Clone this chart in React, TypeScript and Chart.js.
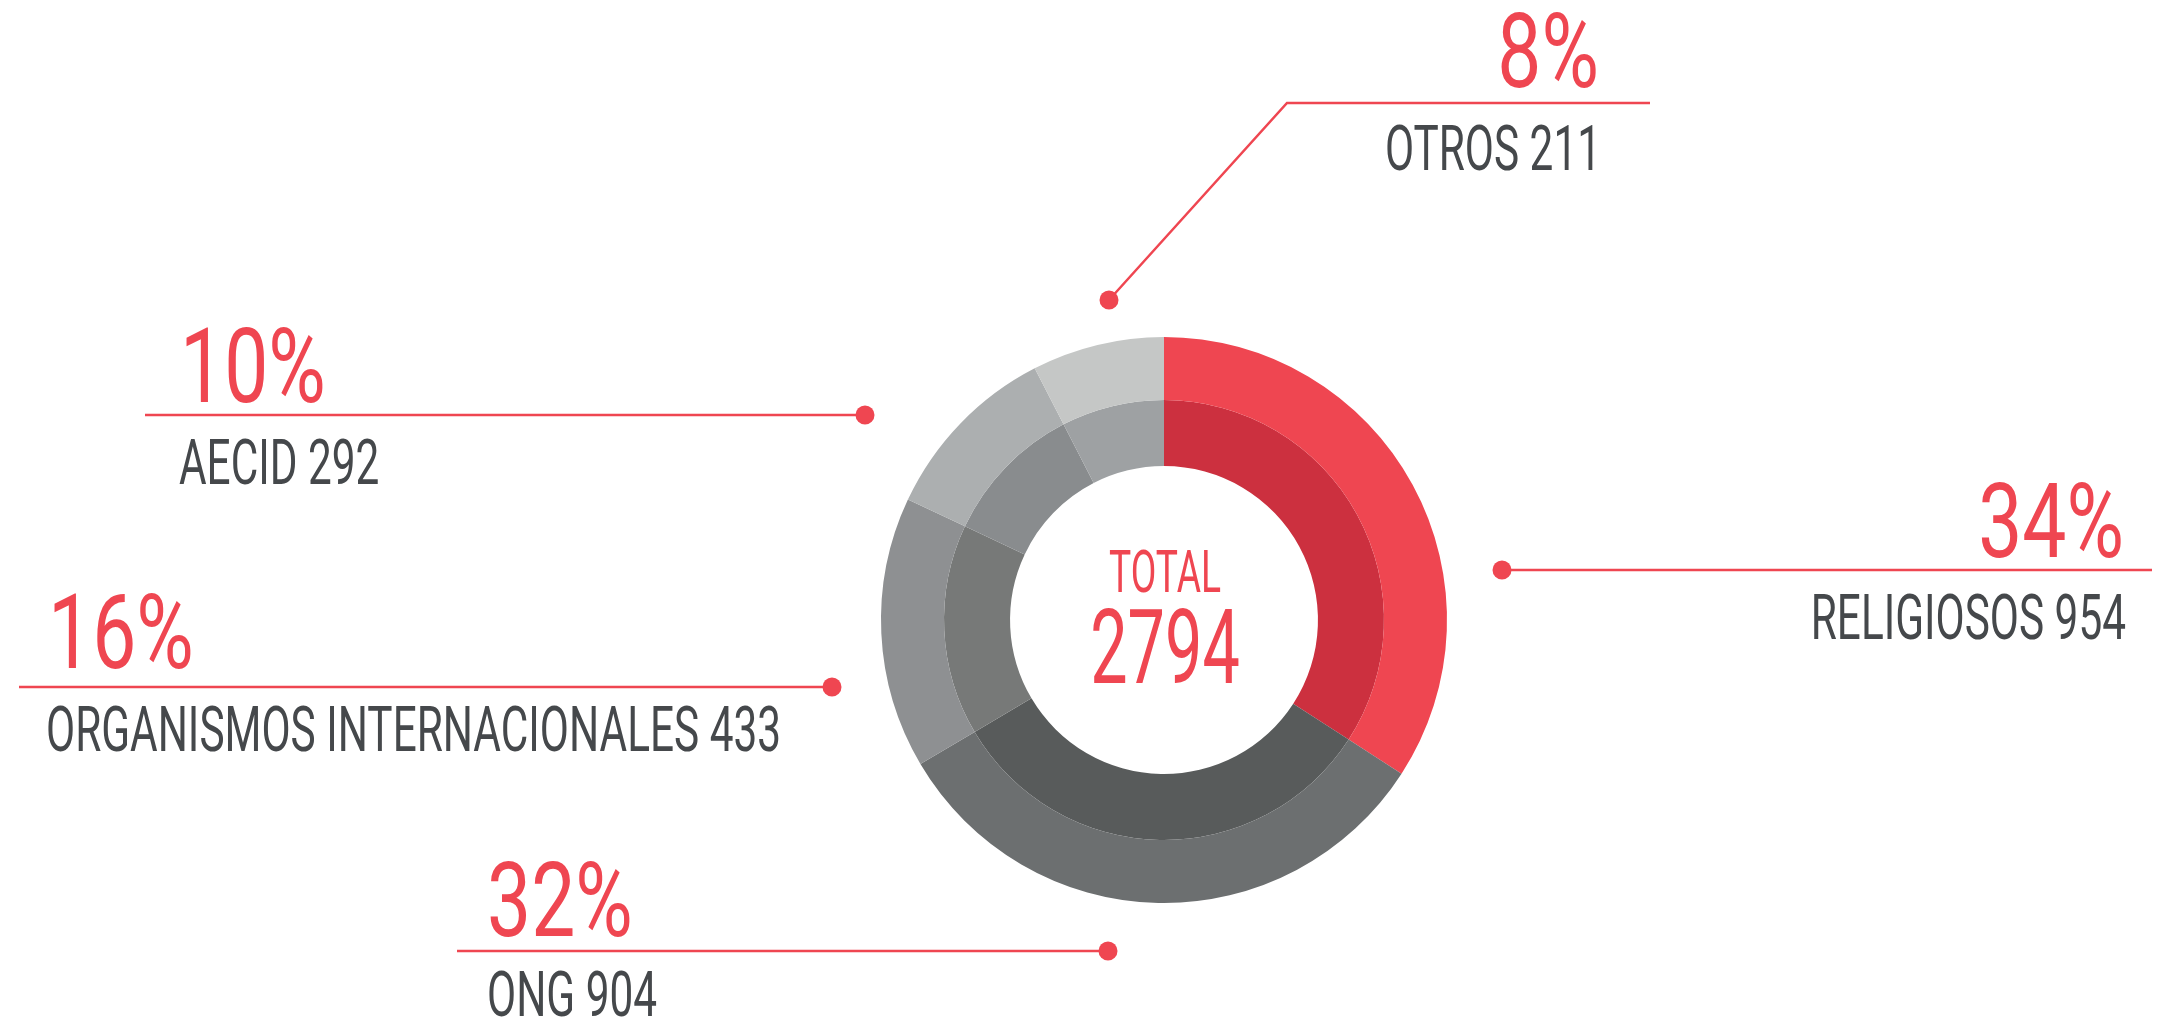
import React, { useEffect, useRef } from "react";
import Chart from "chart.js/auto";

// ---- Data ----
const categories = ["RELIGIOSOS", "ONG", "ORGANISMOS INTERNACIONALES", "AECID", "OTROS"];
const values = [954, 904, 433, 292, 211];
const percentLabels = ["34%", "32%", "16%", "10%", "8%"];
const totalTitle = "TOTAL";
const totalValue = 2794;

// ---- Styles ----
const outerColors = ["#EF4651", "#6C6F70", "#8E9092", "#ACAFB0", "#C5C7C6"];
const innerColors = ["#CC303F", "#585B5B", "#777978", "#898C8E", "#9EA1A3"];
const RED = "#EF4651";
const GREY_TEXT = "#45484B";
const FONT = "Roboto, 'DejaVu Sans', sans-serif";

// ---- Annotation layout (canvas pixels, same order as categories) ----
type Pt = [number, number];
interface Callout {
  path: Pt[]; // first point is the dot
  pct: { x: number; y: number; align: CanvasTextAlign };
  label: { x: number; y: number; align: CanvasTextAlign };
}
const callouts: Callout[] = [
  { path: [[1502, 570], [2152, 570]], pct: { x: 2124, y: 557, align: "right" }, label: { x: 2126, y: 639, align: "right" } },
  { path: [[1108, 951], [457, 951]], pct: { x: 487, y: 936, align: "left" }, label: { x: 487, y: 1016, align: "left" } },
  { path: [[832, 687], [19, 687]], pct: { x: 48, y: 668, align: "left" }, label: { x: 46, y: 751, align: "left" } },
  { path: [[865, 415], [145, 415]], pct: { x: 180, y: 402, align: "left" }, label: { x: 179, y: 484, align: "left" } },
  { path: [[1109, 300], [1287, 103], [1650, 103]], pct: { x: 1599, y: 87, align: "right" }, label: { x: 1601, y: 170, align: "right" } },
];

function drawText(
  ctx: CanvasRenderingContext2D,
  text: string,
  x: number,
  y: number,
  align: CanvasTextAlign,
  size: number,
  color: string,
  sx: number
) {
  ctx.save();
  ctx.translate(x, y);
  ctx.scale(sx, 1);
  ctx.font = `400 ${size}px ${FONT}`;
  ctx.fillStyle = color;
  ctx.textAlign = align;
  ctx.textBaseline = "alphabetic";
  ctx.fillText(text, 0, 0);
  ctx.restore();
}

const calloutPlugin = {
  id: "callouts",
  afterDraw(chart: any) {
    const ctx: CanvasRenderingContext2D = chart.ctx;
    const arc = chart.getDatasetMeta(0).data[0];
    // offsets relative to the designed centre (1164, 620)
    const dx = arc.x - 1164;
    const dy = arc.y - 620;
    ctx.save();
    callouts.forEach((c, i) => {
      ctx.strokeStyle = RED;
      ctx.lineWidth = 2.5;
      ctx.beginPath();
      c.path.forEach((p, k) => {
        if (k === 0) ctx.moveTo(p[0] + dx, p[1] + dy);
        else ctx.lineTo(p[0] + dx, p[1] + dy);
      });
      ctx.stroke();
      ctx.fillStyle = RED;
      ctx.beginPath();
      ctx.arc(c.path[0][0] + dx, c.path[0][1] + dy, 9.5, 0, Math.PI * 2);
      ctx.fill();
      drawText(ctx, percentLabels[i], c.pct.x + dx, c.pct.y + dy, c.pct.align, 104, RED, 0.755);
      drawText(ctx, `${categories[i]} ${values[i]}`, c.label.x + dx, c.label.y + dy, c.label.align, 63, GREY_TEXT, 0.672);
    });
    drawText(ctx, totalTitle, arc.x + 1, arc.y - 28, "center", 60, RED, 0.62);
    drawText(ctx, String(totalValue), arc.x + 1, arc.y + 63, "center", 104, RED, 0.64);
    ctx.restore();
  },
};

export default function App() {
  const ref = useRef<HTMLCanvasElement | null>(null);
  useEffect(() => {
    if (!ref.current) return;
    const chart = new Chart(ref.current, {
      type: "doughnut",
      data: {
        labels: categories,
        datasets: [
          { data: values, backgroundColor: outerColors, borderWidth: 0, hoverOffset: 0, offset: 0, weight: 63 } as any,
          { data: values, backgroundColor: innerColors, borderWidth: 0, hoverOffset: 0, offset: 0, weight: 66 } as any,
        ],
      },
      options: {
        responsive: false,
        animation: false,
        devicePixelRatio: 1,
        cutout: "54.4%",
        layout: { padding: { left: 881, right: 710, top: 337, bottom: 118 } },
        plugins: { legend: { display: false }, tooltip: { enabled: false } },
        events: [],
      } as any,
      plugins: [calloutPlugin],
    });
    return () => chart.destroy();
  }, []);
  return (
    <div style={{ position: "fixed", left: 0, top: 0, width: 2157, height: 1021, background: "#fff" }}>
      <canvas ref={ref} width={2157} height={1021} style={{ display: "block", width: 2157, height: 1021 }} />
    </div>
  );
}
